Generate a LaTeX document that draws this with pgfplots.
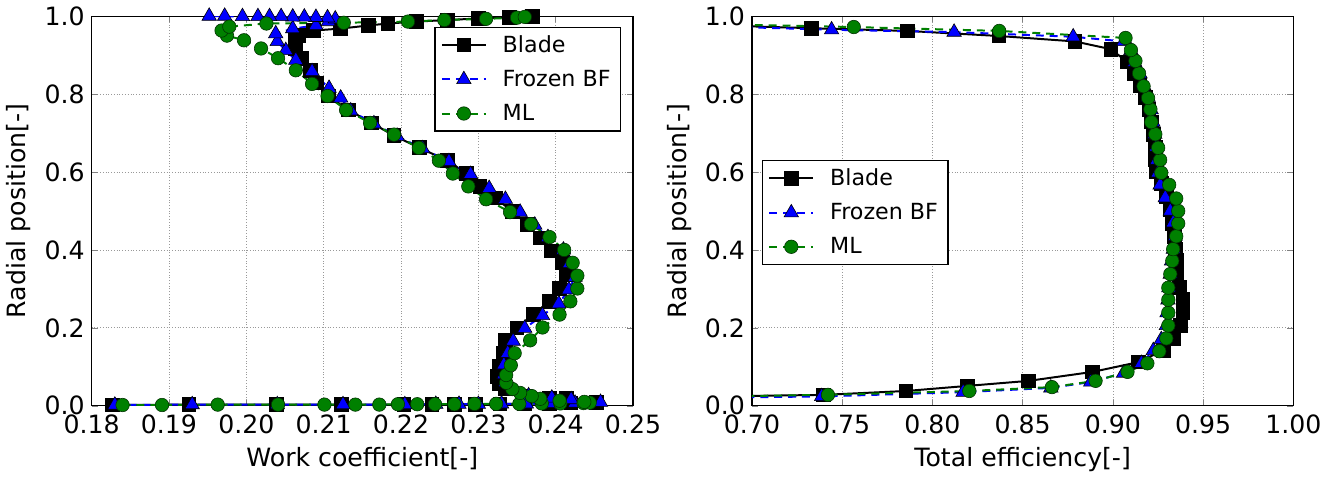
\documentclass[border=0pt]{standalone}
\usepackage{fontspec}
\setmainfont{DejaVu Sans}
\usepackage{pgfplots}
\pgfplotsset{compat=1.18}
\definecolor{mplgreen}{rgb}{0,0.5,0}

\pgfplotsset{
  panel/.style={
    scale only axis, width=273pt, height=196.5pt,
    ymin=0, ymax=1, ytick={0,0.2,0.4,0.6,0.8,1},
    grid=major, grid style={densely dotted, gray!80, line width=0.4pt},
    tick align=inside, major tick length=3pt,
    axis line style={line width=0.6pt},
    font=\fontsize{12.7}{15}\selectfont,
    /pgf/number format/assume math mode=true,
    yticklabel style={/pgf/number format/.cd,fixed,fixed zerofill,precision=1},
    xticklabel style={yshift=-1pt,/pgf/number format/.cd,fixed,fixed zerofill,precision=2},
    ylabel={Radial position[-]},
    legend cell align=left,
    legend style={draw=black, line width=0.6pt, font=\fontsize{11.2}{13}\selectfont,
      row sep=3.5pt, inner xsep=3pt, inner ysep=2pt,
      /tikz/every odd column/.append style={column sep=6pt}},
    legend image code/.code={\draw[mark repeat=2,mark phase=2] plot coordinates {(0cm,0cm)(0.39cm,0cm)(0.78cm,0cm)};},
  },
  blade/.style={black, solid, line width=1pt, mark=square*, mark size=3.2pt,
    mark options={solid, fill=black}},
  frozen/.style={blue, dash pattern=on 4pt off 3pt, line width=1pt, mark=triangle*, mark size=4.2pt,
    mark options={solid, fill=blue, draw=black, line width=0.3pt}},
  ml/.style={mplgreen, dash pattern=on 4pt off 3pt, line width=1pt, mark=*, mark size=3.4pt,
    mark options={solid, fill=mplgreen, draw=black!60!mplgreen, line width=0.3pt}},
}

\begin{document}
\begin{tikzpicture}
% left panel: work coefficient
\begin{axis}[panel,
  xmin=0.18, xmax=0.25, xtick={0.18,0.19,0.20,0.21,0.22,0.23,0.24,0.25},
  xlabel={Work coefficient[-]},
  legend style={at={(0.978,0.973)}, anchor=north east},
]
\addplot[blade] coordinates {
(0.1827,0.002)(0.1926,0.003)(0.2039,0.003)(0.2123,0.003)(0.2204,0.003)(0.2240,0.004)
(0.2269,0.004)(0.2296,0.004)(0.2328,0.005)(0.2360,0.005)(0.2392,0.006)(0.2420,0.007)
(0.2453,0.009)(0.2414,0.018)(0.2392,0.020)(0.2360,0.025)(0.2335,0.043)(0.2327,0.058)
(0.2324,0.076)(0.2327,0.102)(0.2332,0.135)(0.2335,0.168)(0.2350,0.200)(0.2371,0.235)
(0.2392,0.268)(0.2405,0.301)(0.2414,0.336)(0.2408,0.367)(0.2395,0.397)(0.2380,0.431)
(0.2363,0.466)(0.2344,0.499)(0.2322,0.533)(0.2302,0.563)(0.2285,0.596)(0.2260,0.629)
(0.2224,0.662)(0.2191,0.693)(0.2162,0.726)(0.2132,0.759)(0.2106,0.795)(0.2091,0.828)
(0.2083,0.861)(0.2072,0.892)(0.2064,0.917)(0.2063,0.937)(0.2068,0.950)(0.2087,0.963)
(0.2122,0.968)(0.2158,0.976)(0.2183,0.981)(0.2220,0.986)(0.2260,0.990)(0.2300,0.994)
(0.2340,0.997)(0.2370,0.999)
};
\addlegendentry{Blade}
\addplot[frozen] coordinates {
(0.1830,0.002)(0.1930,0.003)(0.2040,0.003)(0.2125,0.003)(0.2205,0.003)(0.2245,0.004)
(0.2275,0.004)(0.2300,0.004)(0.2330,0.005)(0.2362,0.005)(0.2395,0.006)(0.2425,0.007)
(0.2458,0.009)(0.2420,0.016)(0.2395,0.020)(0.2365,0.026)(0.2345,0.040)(0.2335,0.060)
(0.2333,0.080)(0.2333,0.105)(0.2338,0.135)(0.2345,0.166)(0.2360,0.199)(0.2383,0.232)
(0.2404,0.262)(0.2417,0.298)(0.2425,0.330)(0.2418,0.365)(0.2410,0.400)(0.2390,0.432)
(0.2373,0.464)(0.2354,0.497)(0.2335,0.530)(0.2314,0.558)(0.2290,0.594)(0.2262,0.627)
(0.2228,0.660)(0.2195,0.692)(0.2165,0.724)(0.2135,0.757)(0.2122,0.790)(0.2107,0.815)
(0.2085,0.858)(0.2064,0.887)(0.2051,0.912)(0.2040,0.935)(0.2038,0.955)(0.2060,0.968)
(0.2090,0.976)(0.2106,0.986)(0.2115,0.993)(0.2105,0.996)(0.2090,0.997)(0.2075,0.998)
(0.2060,0.998)(0.2045,0.999)(0.2030,0.999)(0.2015,0.999)(0.1995,0.999)(0.1972,1.000)
(0.1952,1.000)
};
\addlegendentry{Frozen BF}
\addplot[ml] coordinates {
(0.1840,0.002)(0.1891,0.002)(0.1963,0.003)(0.2041,0.003)(0.2101,0.003)(0.2141,0.003)
(0.2172,0.003)(0.2196,0.004)(0.2221,0.004)(0.2244,0.004)(0.2269,0.004)(0.2295,0.005)
(0.2323,0.005)(0.2353,0.005)(0.2382,0.006)(0.2406,0.006)(0.2436,0.007)(0.2444,0.008)
(0.2437,0.010)(0.2405,0.013)(0.2380,0.018)(0.2369,0.025)(0.2354,0.033)(0.2344,0.043)
(0.2336,0.059)(0.2336,0.079)(0.2342,0.104)(0.2347,0.135)(0.2367,0.168)(0.2383,0.201)
(0.2405,0.234)(0.2419,0.268)(0.2428,0.301)(0.2428,0.334)(0.2422,0.367)(0.2411,0.400)
(0.2392,0.433)(0.2368,0.466)(0.2341,0.497)(0.2310,0.530)(0.2287,0.563)(0.2267,0.596)
(0.2249,0.629)(0.2223,0.662)(0.2191,0.696)(0.2160,0.726)(0.2129,0.759)(0.2105,0.795)
(0.2085,0.826)(0.2064,0.861)(0.2041,0.892)(0.2019,0.917)(0.1997,0.938)(0.1975,0.950)
(0.1968,0.963)(0.1978,0.973)(0.2026,0.981)(0.2126,0.983)(0.2209,0.986)(0.2256,0.990)
(0.2310,0.993)(0.2350,0.996)(0.2360,0.998)
};
\addlegendentry{ML}
\end{axis}

% right panel: total efficiency
\begin{axis}[panel, at={(333pt,0pt)},
  xmin=0.70, xmax=1.00, xtick={0.70,0.75,0.80,0.85,0.90,0.95,1.00},
  xlabel={Total efficiency[-]},
  legend style={at={(0.018,0.631)}, anchor=north west},
]
\addplot[blade] coordinates {
(0.6200,0.020)(0.7395,0.028)(0.7854,0.038)(0.8193,0.051)(0.8534,0.064)(0.8888,0.087)
(0.9141,0.112)(0.9279,0.142)(0.9334,0.173)(0.9373,0.206)(0.9389,0.239)(0.9389,0.272)
(0.9368,0.303)(0.9351,0.338)(0.9351,0.372)(0.9345,0.402)(0.9340,0.435)(0.9329,0.468)
(0.9318,0.504)(0.9296,0.537)(0.9268,0.570)(0.9241,0.600)(0.9235,0.631)(0.9235,0.664)
(0.9224,0.697)(0.9213,0.728)(0.9200,0.760)(0.9180,0.792)(0.9150,0.822)(0.9120,0.852)
(0.9080,0.882)(0.8990,0.915)(0.8790,0.935)(0.8369,0.949)(0.7862,0.962)(0.7328,0.969)
(0.6200,0.985)
};
\addlegendentry{Blade}
\addplot[frozen] coordinates {
(0.6200,0.018)(0.7386,0.024)(0.8170,0.035)(0.8656,0.046)(0.8877,0.061)(0.9059,0.084)
(0.9158,0.109)(0.9224,0.142)(0.9268,0.170)(0.9296,0.206)(0.9300,0.239)(0.9305,0.272)
(0.9310,0.303)(0.9318,0.338)(0.9325,0.372)(0.9335,0.402)(0.9345,0.435)(0.9334,0.470)
(0.9318,0.500)(0.9290,0.534)(0.9262,0.567)(0.9250,0.598)(0.9245,0.631)(0.9240,0.664)
(0.9232,0.697)(0.9222,0.728)(0.9212,0.760)(0.9195,0.792)(0.9170,0.822)(0.9150,0.852)
(0.9120,0.882)(0.9100,0.912)(0.9060,0.935)(0.8780,0.947)(0.8120,0.959)(0.7441,0.965)
(0.6200,0.982)
};
\addlegendentry{Frozen BF}
\addplot[ml] coordinates {
(0.6200,0.020)(0.7421,0.028)(0.8204,0.038)(0.8662,0.048)(0.8904,0.064)(0.9081,0.087)
(0.9191,0.109)(0.9257,0.140)(0.9296,0.173)(0.9307,0.206)(0.9307,0.239)(0.9307,0.272)
(0.9307,0.303)(0.9318,0.338)(0.9329,0.372)(0.9334,0.402)(0.9351,0.435)(0.9362,0.468)
(0.9362,0.500)(0.9351,0.532)(0.9312,0.567)(0.9268,0.598)(0.9262,0.631)(0.9251,0.662)
(0.9235,0.697)(0.9213,0.728)(0.9208,0.761)(0.9195,0.790)(0.9170,0.820)(0.9145,0.853)
(0.9125,0.885)(0.9100,0.913)(0.9070,0.944)(0.8370,0.962)(0.7564,0.972)(0.6200,0.985)
};
\addlegendentry{ML}
\end{axis}
\end{tikzpicture}
\end{document}
